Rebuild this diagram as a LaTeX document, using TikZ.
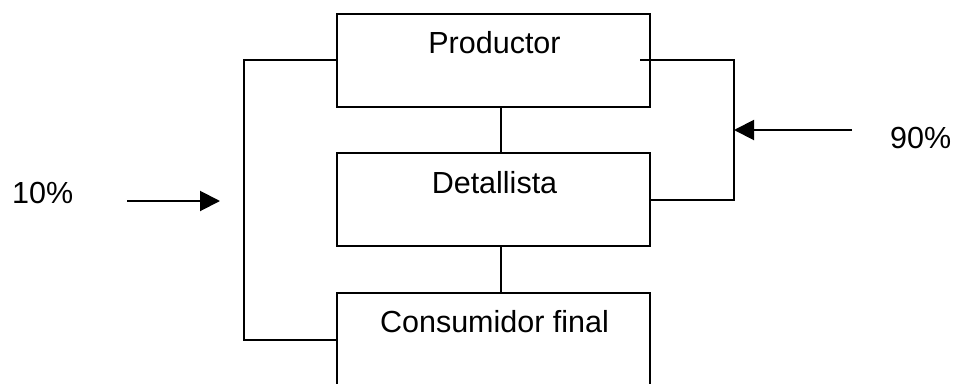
\documentclass[tikz,border=0pt]{standalone}
\usepackage{fontspec}
\setmainfont{Liberation Sans}
\usetikzlibrary{arrows.meta}
\begin{document}
\begin{tikzpicture}[x=1pt,y=-1pt,
  box/.style={draw,line width=2pt,minimum width=313pt,minimum height=93pt,inner sep=0pt,outer sep=0pt},
  txt/.style={font=\fontsize{30.5}{36}\selectfont,inner sep=0pt,anchor=base},
  ln/.style={line width=2pt},
  arr/.style={line width=2pt,-{Triangle[length=20pt,width=20pt]}}]
\useasboundingbox (0,0) rectangle (956,383);
\clip (0,0) rectangle (956,383);
\node[box] (p) at (493.5,60) {};
\node[box] (d) at (493.5,199.5) {};
\node[box] (c) at (493.5,339.5) {};
\node[txt] (pt) at (494.5,53) {Productor};
\node[txt] (dt) at (494.5,193) {Detallista};
\node[txt] (ct) at (494.5,332) {Consumidor final};
\node[txt,anchor=base west] (t10) at (12,203) {10\%};
\node[txt,anchor=base west] (t90) at (890,148) {90\%};
\draw[ln] ([xshift=7.5pt]p.south) -- ([xshift=7.5pt]d.north);
\draw[ln] ([xshift=7.5pt]d.south) -- ([xshift=7.5pt]c.north);
\draw[ln] (p.west) -- ++(-93,0) |- (c.west);
\draw[ln] ([xshift=-10pt]p.east) -- ++(94,0) |- (d.east);
\coordinate (a90s) at (852,130);
\coordinate (a90e) at (734,130);
\coordinate (a10s) at (127,201);
\coordinate (a10e) at (220,201);
\draw[arr] (a90s) -- (a90e);
\draw[arr] (a10s) -- (a10e);
\end{tikzpicture}
\end{document}
